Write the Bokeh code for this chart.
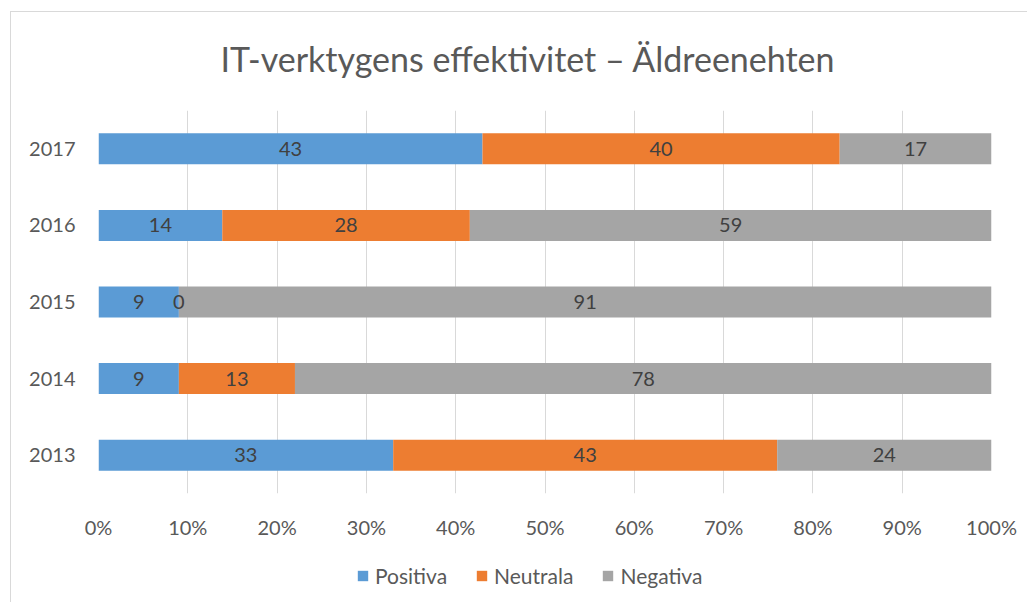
from bokeh.plotting import figure
from bokeh.layouts import column
from bokeh.models import (ColumnDataSource, FactorRange, Range1d, FixedTicker,
                          PrintfTickFormatter, Legend, LegendItem)
from bokeh.core.properties import value
from bokeh.embed import file_html
from bokeh.resources import INLINE

years = ["2013", "2014", "2015", "2016", "2017"]
positiva = [33, 9, 9, 14, 43]
neutrala = [43, 13, 0, 28, 40]
negativa = [24, 78, 91, 59, 17]
series_names = ["Positiva", "Neutrala", "Negativa"]
colors = ["#5B9BD5", "#ED7D31", "#A5A5A5"]
title_text = "IT-verktygens effektivitet – Äldreenehten"
x_ticks = [0, 10, 20, 30, 40, 50, 60, 70, 80, 90, 100]

FONT = "Lato"
TXT = "#595959"

totals = [a + b + c for a, b, c in zip(positiva, neutrala, negativa)]
pos_p = [a / t * 100 for a, t in zip(positiva, totals)]
neu_p = [b / t * 100 for b, t in zip(neutrala, totals)]
neg_p = [c / t * 100 for c, t in zip(negativa, totals)]

src = ColumnDataSource(dict(year=years, Positiva=pos_p, Neutrala=neu_p, Negativa=neg_p))

W = 1027
H1, H2 = 548, 54
p = figure(width=W, height=H1, y_range=FactorRange(factors=years), x_range=Range1d(0, 100),
           output_backend="svg", toolbar_location=None,
           min_border_left=98, min_border_right=36, min_border_top=110, min_border_bottom=55,
           title=title_text)
p.outline_line_color = None
p.background_fill_color = "white"
p.border_fill_color = None

p.title.align = "left"
p.title.offset = 122
p.title.text_font = FONT
p.title.text_font_size = "34px"
p.title.text_font_style = "normal"
p.title.text_color = TXT
p.title.standoff = 64

p.hbar_stack(series_names, y="year", height=0.405, color=colors, source=src, line_width=0)

# data labels
lab_x, lab_y, lab_t = [], [], []
for i, y in enumerate(years):
    cum = 0.0
    for vals, pct in ((positiva, pos_p), (neutrala, neu_p), (negativa, neg_p)):
        lab_x.append(cum + pct[i] / 2)
        lab_y.append(y)
        lab_t.append(str(vals[i]))
        cum += pct[i]
lsrc = ColumnDataSource(dict(x=lab_x, y=lab_y, t=lab_t))
p.text(x="x", y="y", text="t", source=lsrc, text_align="center", text_baseline="middle",
       text_font=value(FONT), text_font_size="20px", text_color="#404040")

# axes
p.xaxis.ticker = FixedTicker(ticks=x_ticks)
p.xaxis.formatter = PrintfTickFormatter(format="%d%%")
for ax in (p.xaxis[0], p.yaxis[0]):
    ax.axis_line_color = None
    ax.major_tick_line_color = None
    ax.minor_tick_line_color = None
    ax.major_tick_out = 0
    ax.major_tick_in = 0
    ax.minor_tick_out = 0
    ax.major_label_text_font = FONT
    ax.major_label_text_font_size = "20px"
    ax.major_label_text_color = TXT
p.xaxis.major_label_standoff = 21
p.yaxis.major_label_standoff = 23
p.xgrid.grid_line_color = "#D9D9D9"
p.xgrid.grid_line_width = 1
p.ygrid.grid_line_color = None

# legend in a small companion figure
p2 = figure(width=W, height=H2, x_range=Range1d(0, 1), y_range=Range1d(0, 1),
            x_axis_location=None, y_axis_location=None,
            output_backend="svg", toolbar_location=None,
            min_border_left=0, min_border_right=0, min_border_top=0, min_border_bottom=0)
p2.grid.visible = False
p2.outline_line_color = None
p2.background_fill_color = None
p2.border_fill_color = None
offscreen = ColumnDataSource(dict(x=[-5], y=[-5]))
lr = [p2.rect(x="x", y="y", width=0.1, height=0.1, color=c, line_width=0, source=offscreen)
      for c in colors]
legend = Legend(items=[LegendItem(label=n, renderers=[r]) for n, r in zip(series_names, lr)],
                orientation="horizontal", location=(258, 14),
                glyph_width=13, glyph_height=13, label_standoff=6, spacing=28,
                padding=0, margin=0, border_line_color=None, background_fill_alpha=0,
                label_text_font=FONT, label_text_font_size="21px", label_text_color=TXT)
p2.add_layout(legend, "center")

layout = column(p, p2, spacing=0)
layout.styles = {
    "background-color": "white",
    "background-image": "linear-gradient(#D9D9D9,#D9D9D9), linear-gradient(#D9D9D9,#D9D9D9)",
    "background-size": "1px 100%, 100% 1px",
    "background-position": "10px 11px, 10px 11px",
    "background-repeat": "no-repeat",
}

open("out.html", "w").write(file_html(layout, INLINE))
